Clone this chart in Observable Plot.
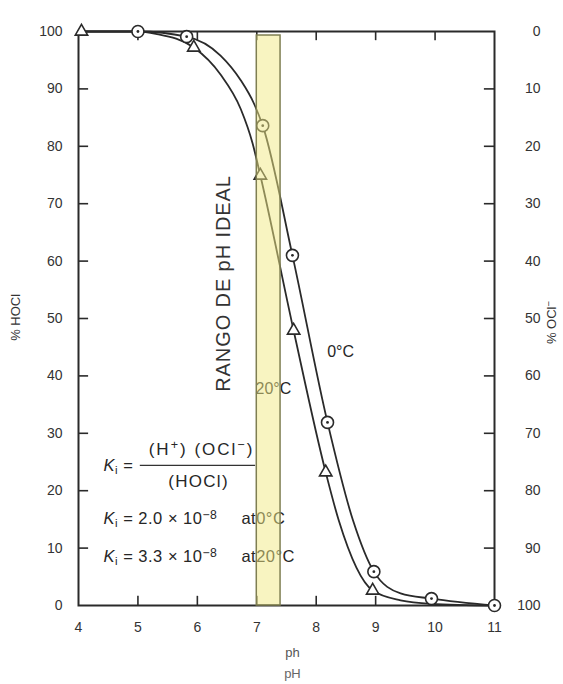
<!DOCTYPE html>
<html>
<head>
<meta charset="utf-8">
<script src="https://cdn.jsdelivr.net/npm/d3@7"></script>
<script src="https://cdn.jsdelivr.net/npm/@observablehq/plot@0.6"></script>
<style>
  html, body { margin: 0; padding: 0; background: #fff; }
  #chart { width: 563px; height: 684px; }
</style>
</head>
<body>
<div id="chart"></div>
<script>
// ---- data ----
const xTicks = [4, 5, 6, 7, 8, 9, 10, 11];
const yTicks = [0, 10, 20, 30, 40, 50, 60, 70, 80, 90, 100];
const innerXTicks = [5, 6, 7, 8, 9, 10];
const idealRange = [7.0, 7.4];

// 0 °C curve (% HOCl vs pH)
const ph0C   = [4, 5, 5.82, 6.39, 6.73, 6.95, 7.10, 7.60, 8.19, 8.62, 8.97, 9.42, 9.94, 11];
const hocl0C = [100, 100, 99.1, 95.8, 91.5, 87.5, 83.6, 61, 31.9, 14.8, 5.9, 2.1, 1.2, 0];
// 20 °C curve
const ph20C   = [4, 5, 5.3, 5.94, 6.39, 6.73, 6.93, 7.06, 7.62, 8.16, 8.38, 8.95, 9.42, 9.93, 11];
const hocl20C = [100, 100, 99.6, 97.2, 92.5, 86.5, 80.5, 74.9, 47.9, 23.2, 14.8, 2.6, 0.9, 0.3, 0];

// plotted markers
const circlePH = [5, 5.82, 7.10, 7.60, 8.19, 8.97, 9.94, 11];
const circleV  = [100, 99.1, 83.6, 61, 31.9, 5.9, 1.2, 0];
const triPH = [4.05, 5.94, 7.06, 7.62, 8.16, 8.95];
const triV  = [100, 97.2, 74.9, 47.9, 23.2, 2.6];

// annotation texts
const kLead = ["Ki ="];
const numerator = ["(H+) (OCl−)"];
const denominator = ["(HOCl)"];
const kLines = ["Ki = 2.0 × 10−8 at 0°C", "Ki = 3.3 × 10−8 at 20°C"];
const curveLabels = ["0°C", "20°C"];
const bandLabel = ["RANGO DE pH IDEAL"];

// ---- build tables ----
const line0 = ph0C.map((p, i) => ({ph: p, v: hocl0C[i]}));
const line20 = ph20C.map((p, i) => ({ph: p, v: hocl20C[i]}));
const circles = circlePH.map((p, i) => ({ph: p, v: circleV[i]}));
const tris = triPH.map((p, i) => ({ph: p, v: triV[i]}));

const ink = "#2a2a2a";
const font = "'Liberation Sans', Arial, Helvetica, sans-serif";
const fSize = 16.5;

const chart = Plot.plot({
  width: 563,
  height: 684,
  marginLeft: 78,
  marginRight: 69,
  marginTop: 31,
  marginBottom: 79,
  x: {domain: [4, 11]},
  y: {domain: [0, 100]},
  style: {fontFamily: font, fontSize: "14px", color: "#333", background: "#fff", overflow: "visible"},
  marks: [
    Plot.axisX({ticks: xTicks, tickSize: 0, tickPadding: 17, label: null, fontSize: 14, tickFormat: d => String(d)}),
    Plot.axisY({anchor: "left", ticks: yTicks, tickSize: 0, tickPadding: 16, label: null, fontSize: 14}),
    Plot.axisY({anchor: "right", ticks: yTicks, tickSize: 0, tickPadding: 46, textAnchor: "end",
                tickFormat: d => String(100 - d), label: null, fontSize: 14}),
    Plot.ruleY(yTicks.slice(1, -1), {y: d => d, x1: 4, x2: 4.17, stroke: ink, strokeWidth: 1.6}),
    Plot.ruleY(yTicks.slice(1, -1), {y: d => d, x1: 10.83, x2: 11, stroke: ink, strokeWidth: 1.6}),
    Plot.ruleX(innerXTicks, {x: d => d, y1: 0, y2: 1.6, stroke: ink, strokeWidth: 1.6}),
    Plot.ruleX(innerXTicks, {x: d => d, y1: 98.4, y2: 100, stroke: ink, strokeWidth: 1.6}),
    Plot.frame({stroke: ink, strokeWidth: 2}),
    Plot.line(line0, {x: "ph", y: "v", curve: "monotone-x", stroke: ink, strokeWidth: 1.8}),
    Plot.line(line20, {x: "ph", y: "v", curve: "monotone-x", stroke: ink, strokeWidth: 1.8}),
    Plot.dot(tris, {x: "ph", y: "v", symbol: "triangle", r: 4.6, fill: "#fff", stroke: ink, strokeWidth: 1.6}),
    Plot.dot(circles, {x: "ph", y: "v", r: 6, fill: "#fff", stroke: ink, strokeWidth: 1.6}),
    Plot.dot(circles, {x: "ph", y: "v", r: 1.4, fill: ink}),
    // formula block
    Plot.text(kLead, {x: 4.42, y: 24.4, text: d => d, textAnchor: "start", fontSize: fSize, fill: "#262626"}),
    Plot.ruleY([24.4], {x1: 5.04, x2: 6.98, stroke: "#333", strokeWidth: 1.3}),
    Plot.text(numerator, {x: 6.07, y: 27.2, text: d => d, fontSize: 17, fill: "#262626"}),
    Plot.text(denominator, {x: 6.02, y: 21.6, text: d => d, fontSize: 17, fill: "#262626"}),
    Plot.text(kLines, {x: 4.42, y: [15.2, 8.5], text: d => d, textAnchor: "start", fontSize: fSize, fill: "#262626"}),
    // curve labels
    Plot.text(curveLabels, {x: [8.41, 7.28], y: [44.1, 37.8], text: d => d, fontSize: 16, fill: "#262626"}),
    // vertical annotation
    Plot.text(bandLabel, {x: 6.44, y: 56.1, text: d => d, rotate: -90, fontSize: 20, fill: "#333"}),
    // axis titles
    Plot.text(["% HOCl"], {x: 2.94, y: 50.2, text: d => d, rotate: -90, fontSize: 13, fill: "#333"}),
    Plot.text(["% OCl−"], {x: 11.96, y: 49.3, text: d => d, rotate: -90, fontSize: 13, fill: "#333"}),
    Plot.text(["ph"], {x: 7.6, y: -8.2, text: d => d, fontSize: 13, fill: "#555"}),
    Plot.text(["pH"], {x: 7.6, y: -11.9, text: d => d, fontSize: 13, fill: "#666"}),
    // ideal pH band (translucent overlay)
    Plot.rectX([idealRange], {x1: d => d[0], x2: d => d[1], y1: 0, y2: 99.3,
      fill: "#f2ea84", fillOpacity: 0.5, stroke: "#7f7f52", strokeWidth: 1.5})
  ]
});

// rich formatting: italic K, subscript i, superscripts, wide gap before "at"
function enrich(node, segs) {
  const t = d3.select(node);
  t.text(null);
  for (const s of segs) {
    const ts = t.append("tspan").text(s.t);
    if (s.it) ts.attr("font-style", "italic");
    if (s.sub) ts.attr("font-size", "70%").attr("baseline-shift", "-25%");
    if (s.sup) ts.attr("font-size", "74%").attr("baseline-shift", "45%");
    if (s.dx) ts.attr("dx", s.dx);
  }
}
function segsFor(str) {
  const segs = [];
  let rest = str;
  if (rest.startsWith("Ki")) { segs.push({t: "K", it: true}, {t: "i", sub: true}); rest = rest.slice(2); }
  const re = /(10)(−8)|(H)(\+)|(OCl)(−)/;
  let m;
  while ((m = rest.match(re))) {
    const base = m[1] || m[3] || m[5], sup = m[2] || m[4] || m[6];
    segs.push({t: rest.slice(0, m.index) + base});
    segs.push({t: sup, sup: true});
    rest = rest.slice(m.index + m[0].length);
  }
  if (rest.startsWith(" at ")) { segs.push({t: "at", dx: 24}); rest = rest.slice(4); }
  if (rest) segs.push({t: rest});
  return segs;
}
const richSet = new Set([...kLead, ...numerator, ...kLines, "% OCl−"]);
const spacing = new Map([
  [numerator[0], "2px"], [denominator[0], "1.3px"],
  [kLines[0], "0.5px"], [kLines[1], "0.5px"], [kLead[0], "0.5px"],
  [bandLabel[0], "0.9px"]
]);
d3.select(chart).selectAll("text").each(function() {
  const s = this.textContent;
  if (spacing.has(s)) this.setAttribute("letter-spacing", spacing.get(s));
  if (richSet.has(s) && this.childElementCount === 0) enrich(this, segsFor(s));
});
document.getElementById("chart").appendChild(chart);
</script>
</body>
</html>
